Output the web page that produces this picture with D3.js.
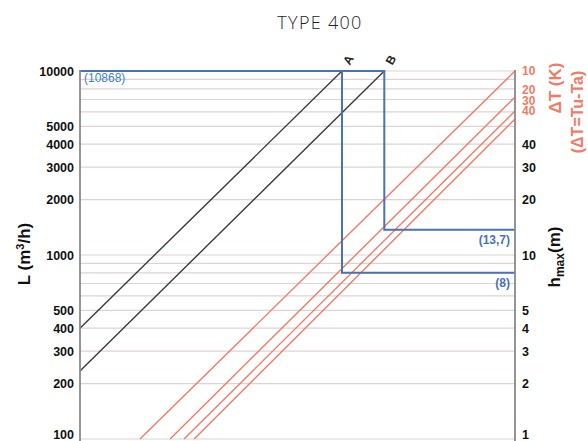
<!DOCTYPE html>
<html>
<head>
<meta charset="utf-8">
<script src="https://cdn.jsdelivr.net/npm/d3@7"></script>
<style>
  body { margin: 0; background: #fff; }
  text { font-family: "Liberation Sans", Arial, sans-serif; }
</style>
</head>
<body>
<div id="chart"></div>
<script>
// flow L (m3/h) ticks, hmax (m) ticks, delta T labels
var leftTicks = [100, 200, 300, 400, 500, 1000, 2000, 3000, 4000, 5000, 10000];
var rightTicks = [1, 2, 3, 4, 5, 10, 20, 30, 40];
var dTLabels = ["10", "20", "30", "40"];
var dTLabelAt = [10000, 7890, 6870, 6060];

// black lines A and B  [u, L]
var lineA = [[1, 400], [26.1, 10000]];
var lineB = [[1, 234], [44.2, 10000]];

// red delta T lines  [u, L]
var redLines = [
    [[2.11, 100], [225, 10000]],
    [[3.07, 100], [225, 7220]],
    [[3.65, 100], [225, 6060]],
    [[4.14, 100], [225, 5480]]
];

// blue reading paths
var blueB = [[1, 10000], [44.2, 10000], [44.2, 1370], [225, 1370]];
var blueA = [[26.1, 10000], [26.1, 800], [225, 800]];

var width = 588, height = 441;
var mLeft = 80, mRight = 515, mTop = 71, mBottom = 439;

var svg = d3.select("#chart").append("svg")
    .attr("width", width)
    .attr("height", height);

var x = d3.scaleLog().domain([1, 225]).range([mLeft, mRight]);
var y = d3.scaleLog().domain([100, 10000]).range([mBottom, mTop]);

var gridColor = "#dcd4d4";
var red = "#f07b66";
var blue = "#4a72b6";

// grid
svg.append("g").selectAll("line")
    .data(y.ticks())
    .enter().append("line")
    .attr("x1", mLeft).attr("x2", mRight)
    .attr("y1", d => y(d)).attr("y2", d => y(d))
    .attr("stroke", gridColor)
    .attr("stroke-width", 1.2);

svg.append("defs").append("clipPath").attr("id", "clip")
    .append("rect").attr("x", mLeft).attr("y", 0)
    .attr("width", mRight - mLeft).attr("height", height);

var line = d3.line().x(d => x(d[0])).y(d => y(d[1]));

var marks = svg.append("g").attr("clip-path", "url(#clip)");

marks.selectAll(".red")
    .data(redLines)
    .enter().append("path")
    .attr("class", "red")
    .attr("d", line)
    .attr("fill", "none")
    .attr("stroke", red)
    .attr("stroke-width", 1.4);

marks.selectAll(".blk")
    .data([lineA, lineB])
    .enter().append("path")
    .attr("class", "blk")
    .attr("d", line)
    .attr("fill", "none")
    .attr("stroke", "#3a3a3a")
    .attr("stroke-width", 1.4);

// axes lines
svg.append("line")
    .attr("x1", mLeft).attr("x2", mLeft).attr("y1", mTop - 1).attr("y2", height)
    .attr("stroke", "#8a8a8a").attr("stroke-width", 1.8);
svg.append("line")
    .attr("x1", mRight).attr("x2", mRight).attr("y1", mTop - 1).attr("y2", height)
    .attr("stroke", "#8a8a8a").attr("stroke-width", 1.8);

marks.selectAll(".blue")
    .data([blueB, blueA])
    .enter().append("path")
    .attr("class", "blue")
    .attr("d", line)
    .attr("fill", "none")
    .attr("stroke", blue)
    .attr("stroke-width", 2);

// left axis labels
var yLeft = d3.axisLeft(y).tickValues(leftTicks).tickSize(0).tickPadding(6)
    .tickFormat(d3.format("d"));
svg.append("g")
    .attr("transform", "translate(" + mLeft + ",0)")
    .call(yLeft)
    .call(g => g.select(".domain").remove())
    .selectAll("text")
    .style("font-family", "Liberation Sans")
    .style("font-size", "12.5px")
    .style("font-weight", "bold")
    .attr("fill", "#111")
    .attr("dy", d => d === 100 ? "-0.05em" : "0.32em");

// right axis labels (hmax = L / 100)
var yRight = d3.axisRight(y).tickValues(rightTicks.map(d => d * 100)).tickSize(0).tickPadding(7)
    .tickFormat(d => d / 100);
svg.append("g")
    .attr("transform", "translate(" + mRight + ",0)")
    .call(yRight)
    .call(g => g.select(".domain").remove())
    .selectAll("text")
    .style("font-family", "Liberation Sans")
    .style("font-size", "12.5px")
    .style("font-weight", "bold")
    .attr("fill", "#111")
    .attr("dy", d => d === 100 ? "-0.05em" : "0.32em");

// delta T labels
svg.selectAll(".dt")
    .data(dTLabels)
    .enter().append("text")
    .attr("class", "dt")
    .attr("x", mRight + 7)
    .attr("y", (d, i) => y(dTLabelAt[i]))
    .attr("dy", "0.35em")
    .style("font-size", "12px")
    .style("font-weight", "bold")
    .attr("fill", red)
    .text(d => d);

// A, B labels
svg.selectAll(".ab")
    .data([["A", lineA], ["B", lineB]])
    .enter().append("text")
    .attr("class", "ab")
    .attr("transform", d => "translate(" + (x(d[1][1][0]) + 10) + "," + (y(d[1][1][1]) - 9) + ") rotate(-60)")
    .attr("text-anchor", "middle")
    .style("font-size", "12px")
    .style("font-weight", "bold")
    .attr("fill", "#222")
    .text(d => d[0]);

// blue value labels
svg.append("text")
    .attr("x", mLeft + 4).attr("y", y(10000) + 7).attr("dy", "0.35em")
    .style("font-size", "12px")
    .attr("fill", "#3d80c4")
    .text("(10868)");
svg.append("text")
    .attr("x", mRight - 5).attr("y", y(1370) + 10).attr("dy", "0.35em")
    .attr("text-anchor", "end")
    .style("font-size", "12px").style("font-weight", "bold")
    .attr("fill", blue)
    .text("(13,7)");
svg.append("text")
    .attr("x", mRight - 5).attr("y", y(800) + 10).attr("dy", "0.35em")
    .attr("text-anchor", "end")
    .style("font-size", "12px").style("font-weight", "bold")
    .attr("fill", blue)
    .text("(8)");

// titles
svg.append("text")
    .attr("x", 320).attr("y", 29)
    .attr("text-anchor", "middle")
    .style("font-family", "Open Sans")
    .style("font-size", "18px")
    .style("font-weight", "300")
    .style("letter-spacing", "1.3px")
    .attr("fill", "#222")
    .text("TYPE 400");

var lt = svg.append("text")
    .attr("transform", "translate(30,254) rotate(-90)")
    .attr("text-anchor", "middle")
    .style("font-size", "17px").style("font-weight", "bold")
    .attr("fill", "#111");
lt.append("tspan").text("L (m");
lt.append("tspan").attr("dy", -6).style("font-size", "11px").text("3");
lt.append("tspan").attr("dy", 6).text("/h)");

var ht = svg.append("text")
    .attr("transform", "translate(560,257) rotate(-90)")
    .attr("text-anchor", "middle")
    .style("font-size", "17px").style("font-weight", "bold")
    .attr("fill", "#111");
ht.append("tspan").text("h");
ht.append("tspan").attr("dy", 4).style("font-size", "12px").text("max");
ht.append("tspan").attr("dy", -4).text("(m)");

svg.append("text")
    .attr("transform", "translate(561,88) rotate(-90)")
    .attr("text-anchor", "middle")
    .style("font-size", "17px").style("font-weight", "bold")
    .attr("fill", red)
    .text("\u0394T (K)");
svg.append("text")
    .attr("transform", "translate(583,112) rotate(-90)")
    .attr("text-anchor", "middle")
    .style("font-size", "16px").style("font-weight", "bold")
    .attr("fill", red)
    .text("(\u0394T=Tu-Ta)");
</script>
</body>
</html>
